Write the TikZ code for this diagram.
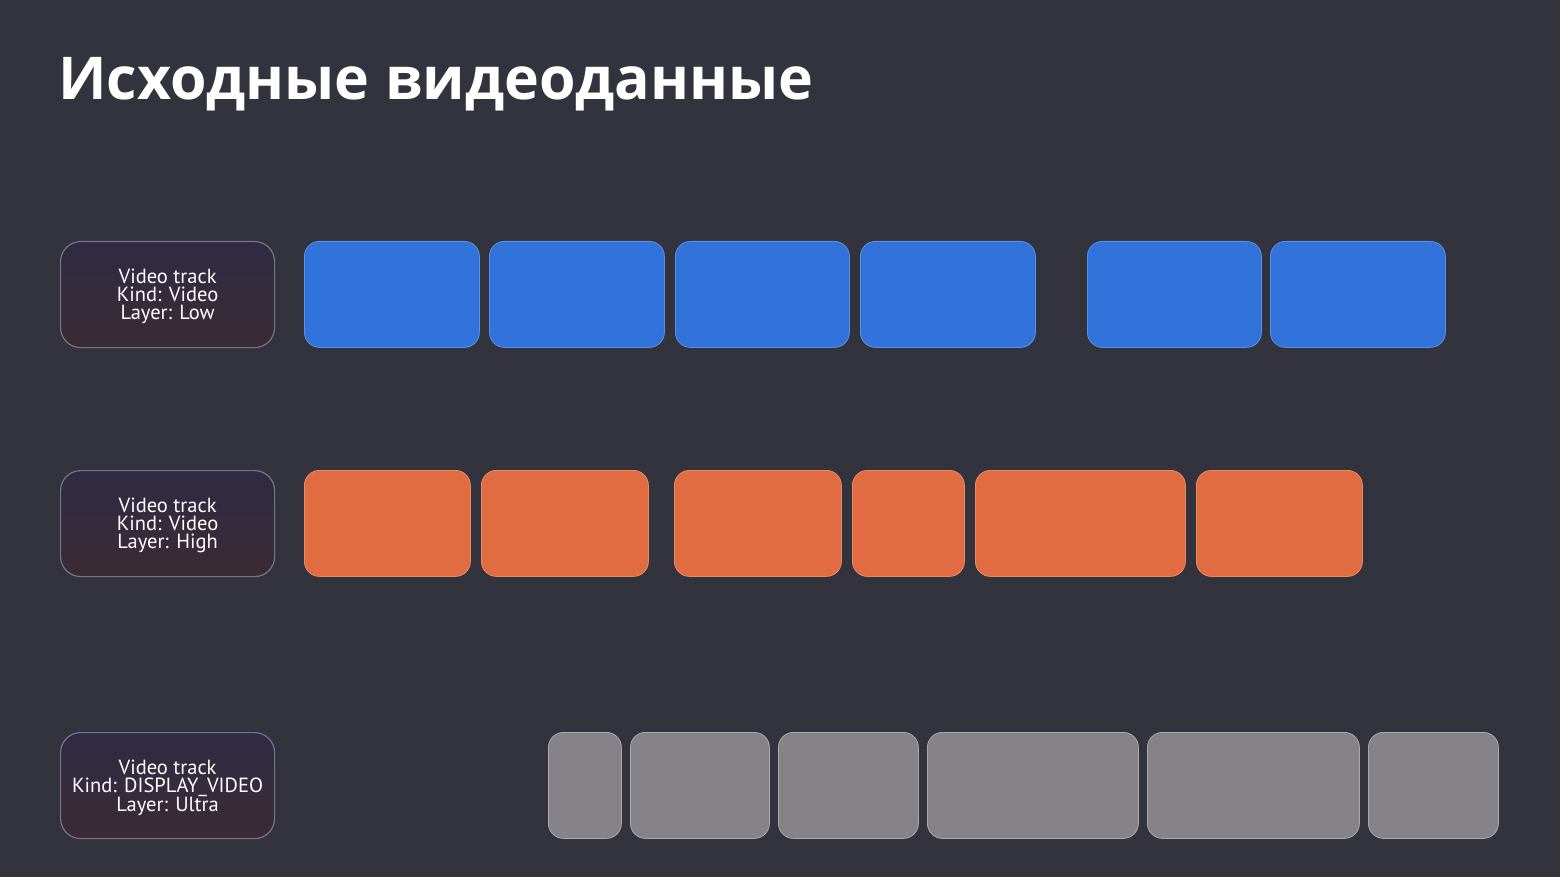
\documentclass[tikz,border=0pt]{standalone}
\usepackage{fontspec}
\setmainfont{PT Sans}
\newfontfamily\titlefont{Open Sans}
\definecolor{bgdark}{HTML}{33333D}
\definecolor{lowblue}{HTML}{3273DB}
\definecolor{highorange}{HTML}{E26C42}
\definecolor{ultragray}{HTML}{858388}
\definecolor{tracktop}{HTML}{2F2B44}
\definecolor{trackbot}{HTML}{3A2B33}
\definecolor{trackline}{HTML}{77718E}
\begin{document}
\begin{tikzpicture}[x=1pt,y=-1pt,
    track/.style={draw=trackline,line width=1.2pt,rounded corners=20pt,
      top color=tracktop,bottom color=trackbot,minimum width=214pt,
      minimum height=106pt,anchor=north west,text=white,align=center,
      font=\fontsize{20.5}{18}\selectfont,inner sep=0pt,text depth=-4pt},
    frame/.style={rounded corners=15pt,minimum height=106pt,anchor=north west,inner sep=0pt},
    low/.style={frame,fill=lowblue,draw=lowblue!80!white,line width=0.8pt},
    high/.style={frame,fill=highorange,draw=highorange!80!white,line width=0.8pt},
    ultra/.style={frame,fill=ultragray,draw=ultragray!70!white,line width=0.8pt}]
  \fill[bgdark] (0,0) rectangle (1560,877);
  \useasboundingbox (0,0) rectangle (1560,877);
  \node[anchor=base west,text=white,inner sep=0pt,
    font=\titlefont\bfseries\fontsize{59}{59}\selectfont] (title) at (58,100) {Исходные видеоданные};
  % track labels
  \node[track] (tlow) at (60,241) {Video track\\Kind: Video\\Layer: Low};
  \node[track] (thigh) at (60,470) {Video track\\Kind: Video\\Layer: High};
  \node[track] (tultra) at (60,732) {Video track\\Kind: DISPLAY\_VIDEO\\Layer: Ultra};
  % low layer
  \node[low,minimum width=175pt] (l1) at (304,241) {};
  \node[low,minimum width=175pt] (l2) at (489,241) {};
  \node[low,minimum width=174pt] (l3) at (675,241) {};
  \node[low,minimum width=175pt] (l4) at (860,241) {};
  \node[low,minimum width=174pt] (l5) at (1087,241) {};
  \node[low,minimum width=175pt] (l6) at (1270,241) {};
  % high layer
  \node[high,minimum width=166pt] (h1) at (304,470) {};
  \node[high,minimum width=167pt] (h2) at (481,470) {};
  \node[high,minimum width=167pt] (h3) at (674,470) {};
  \node[high,minimum width=112pt] (h4) at (852,470) {};
  \node[high,minimum width=210pt] (h5) at (975,470) {};
  \node[high,minimum width=166pt] (h6) at (1196,470) {};
  % ultra layer
  \node[ultra,minimum width=73pt] (u1) at (548,732) {};
  \node[ultra,minimum width=139pt] (u2) at (630,732) {};
  \node[ultra,minimum width=140pt] (u3) at (778,732) {};
  \node[ultra,minimum width=211pt] (u4) at (927,732) {};
  \node[ultra,minimum width=212pt] (u5) at (1147,732) {};
  \node[ultra,minimum width=130pt] (u6) at (1368,732) {};
\end{tikzpicture}
\end{document}
